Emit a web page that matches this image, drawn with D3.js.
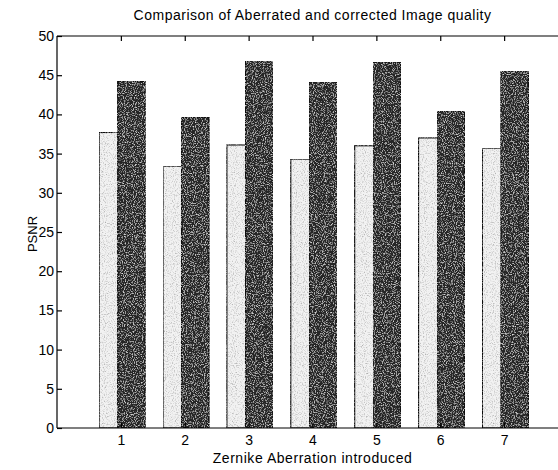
<!DOCTYPE html>
<html><head><meta charset="utf-8">
<script src="https://cdn.jsdelivr.net/npm/d3@7"></script>
<style>body{margin:0;background:#fff}svg{display:block}</style>
</head><body><div id="chart"></div>
<script>
const categories = [1, 2, 3, 4, 5, 6, 7];
const aberrated = [37.7, 33.4, 36.1, 34.3, 36.0, 37.0, 35.7];
const corrected = [44.2, 39.6, 46.8, 44.1, 46.6, 40.4, 45.5];
const yTicks = [0, 5, 10, 15, 20, 25, 30, 35, 40, 45, 50];
const title = "Comparison of Aberrated and corrected Image quality";
const xTitle = "Zernike Aberration introduced";
const yTitle = "PSNR";

const W = 558, H = 470;
const m = {left: 57, top: 36, right: -10, bottom: 42};
const x = d3.scaleLinear().domain([0, 8]).range([m.left, W - m.right]);
const y = d3.scaleLinear().domain([0, 50]).range([H - m.bottom, m.top]);

const svg = d3.select("#chart").append("svg").attr("width", W).attr("height", H);
const defs = svg.append("defs");
function noise(id, base, freq, slope, inter) {
  const f = defs.append("filter").attr("id", id).attr("x", 0).attr("y", 0).attr("width", 1).attr("height", 1);
  f.append("feTurbulence").attr("type", "fractalNoise").attr("baseFrequency", freq).attr("numOctaves", 2).attr("seed", 3).attr("result", "n");
  f.append("feColorMatrix").attr("in", "n").attr("type", "matrix")
    .attr("values", `0 0 0 0 ${base}  0 0 0 0 ${base}  0 0 0 0 ${base}  ${slope} 0 0 0 ${inter}`).attr("result", "c");
  f.append("feComposite").attr("in", "c").attr("in2", "SourceGraphic").attr("operator", "atop");
}
noise("nLight", 0.35, 0.9, 2.2, -1.05);
noise("nDark", 0.9, 0.9, 2.2, -1.1);

const font = "Liberation Sans, Arial, sans-serif";
const g = svg.append("g");

// bars: light (aberrated) behind, dark (corrected) overlapping
g.selectAll(".lb").data(categories).join("rect")
  .attr("x", (d) => x(d - 0.34)).attr("width", (d) => x(d + 0.11) - x(d - 0.34))
  .attr("y", (d, i) => y(aberrated[i])).attr("height", (d, i) => y(0) - y(aberrated[i]))
  .attr("fill", "#f2f2f2").attr("stroke", "#111").attr("stroke-width", 1.2)
  .attr("filter", "url(#nLight)");
g.selectAll(".db").data(categories).join("rect")
  .attr("x", (d) => x(d - 0.05)).attr("width", (d) => x(d + 0.38) - x(d - 0.05))
  .attr("y", (d, i) => y(corrected[i])).attr("height", (d, i) => y(0) - y(corrected[i]))
  .attr("fill", "#262626").attr("stroke", "#111").attr("stroke-width", 1.2)
  .attr("filter", "url(#nDark)");

// frame
const fr = svg.append("g").attr("stroke", "#000").attr("stroke-width", 1.2).attr("fill", "none");
fr.append("line").attr("x1", x(0)).attr("x2", x(8)).attr("y1", y(0)).attr("y2", y(0));
fr.append("line").attr("x1", x(0)).attr("x2", x(8)).attr("y1", y(50)).attr("y2", y(50));
fr.append("line").attr("x1", x(0)).attr("x2", x(0)).attr("y1", y(0)).attr("y2", y(50));

// axes
const xAxisB = d3.axisBottom(x).tickValues(categories).tickSize(-5).tickPadding(7).tickFormat(d3.format("d"));
const xAxisT = d3.axisTop(x).tickValues(categories).tickSize(-5).tickFormat("");
const yAxis = d3.axisLeft(y).tickValues(yTicks).tickSize(-5).tickPadding(3);

function style(sel) {
  sel.select(".domain").remove();
  sel.selectAll("line").attr("stroke", "#000").attr("stroke-width", 1.2);
  sel.selectAll("text").attr("font-family", font).attr("font-size", 14).attr("fill", "#000");
}
svg.append("g").attr("transform", `translate(0,${y(0)})`).call(xAxisB).call(style);
svg.append("g").attr("transform", `translate(0,${y(50)})`).call(xAxisT).call(style);
svg.append("g").attr("transform", `translate(${x(0)},0)`).call(yAxis).call(style);

svg.append("text").attr("x", x(4)).attr("y", 20).attr("text-anchor", "middle")
  .attr("font-family", font).attr("font-size", 14).attr("letter-spacing", 0.5).text(title);
svg.append("text").attr("x", x(4)).attr("y", 463).attr("text-anchor", "middle")
  .attr("font-family", font).attr("font-size", 14).attr("letter-spacing", 0.55).text(xTitle);
svg.append("text").attr("transform", `translate(37,${(y(0) + y(50)) / 2 + 2}) rotate(-90)`).attr("text-anchor", "middle")
  .attr("font-family", font).attr("font-size", 13).text(yTitle);
</script></body></html>
